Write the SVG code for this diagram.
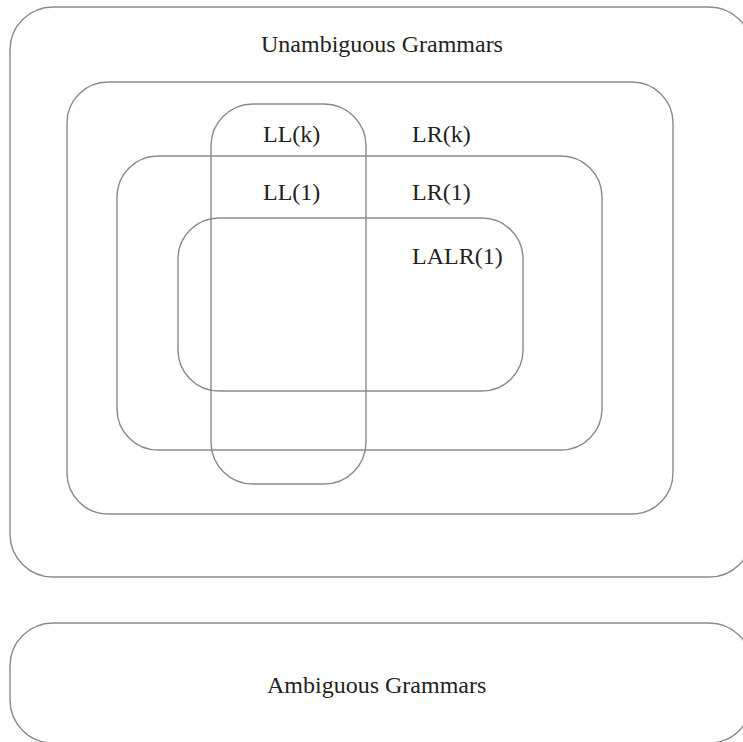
<svg xmlns="http://www.w3.org/2000/svg" width="743" height="742" viewBox="0 0 743 742">
<style>
.box{fill:none;stroke:#8a8a8a;stroke-width:1.4}
.lbl{font-family:"Liberation Serif","Times New Roman",serif;font-size:24px;fill:#222}
</style>
<rect x="0" y="0" width="743" height="742" fill="#fff"/>
<g id="unambiguous">
<rect class="box" x="10" y="7" width="742" height="570" rx="43" ry="43"/>
<text class="lbl" x="261" y="52">Unambiguous Grammars</text>
</g>
<g id="lrk">
<rect class="box" x="67" y="82" width="606" height="432" rx="41" ry="41"/>
<text class="lbl" x="412" y="142">LR(k)</text>
</g>
<g id="lr1">
<rect class="box" x="117" y="156" width="485" height="294" rx="41" ry="41"/>
<text class="lbl" x="412" y="200">LR(1)</text>
</g>
<g id="lalr1">
<rect class="box" x="178" y="218" width="345" height="173" rx="41" ry="41"/>
<text class="lbl" x="412" y="264">LALR(1)</text>
</g>
<g id="llk">
<rect class="box" x="211" y="104" width="155" height="380" rx="42" ry="42"/>
<text class="lbl" x="263" y="142">LL(k)</text>
<text class="lbl" x="263" y="200">LL(1)</text>
</g>
<g id="ambiguous">
<rect class="box" x="10" y="623" width="742" height="120" rx="43" ry="43"/>
<text class="lbl" x="267" y="693">Ambiguous Grammars</text>
</g>
<g id="connectors"></g>
</svg>
